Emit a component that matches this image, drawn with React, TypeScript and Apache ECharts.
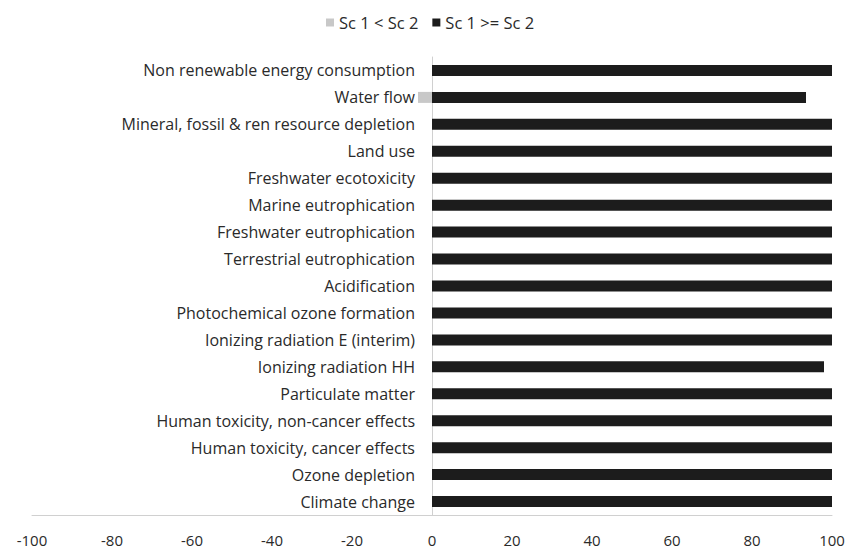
import React, { useEffect, useRef } from "react";
import * as echarts from "echarts";

const categories = [
  "Climate change",
  "Ozone depletion",
  "Human toxicity, cancer effects",
  "Human toxicity, non-cancer effects",
  "Particulate matter",
  "Ionizing radiation HH",
  "Ionizing radiation E (interim)",
  "Photochemical ozone formation",
  "Acidification",
  "Terrestrial eutrophication",
  "Freshwater eutrophication",
  "Marine eutrophication",
  "Freshwater ecotoxicity",
  "Land use",
  "Mineral, fossil & ren resource depletion",
  "Water flow",
  "Non renewable energy consumption",
];

const sc1LessSc2 = [0, 0, 0, 0, 0, 0, 0, 0, 0, 0, 0, 0, 0, 0, 0, -3.5, 0];
const sc1GeqSc2 = [100, 100, 100, 100, 100, 98, 100, 100, 100, 100, 100, 100, 100, 100, 100, 93.5, 100];

const xTicks = { min: -100, max: 100, interval: 20 };

export default function App() {
  const ref = useRef<HTMLDivElement>(null);
  useEffect(() => {
    if (!ref.current) return;
    const chart = echarts.init(ref.current, null, { renderer: "svg" });
    const font = "Open Sans";
    const gridLeft = 32;
    const gridRight = 28;
    const plotWidth = 860 - gridLeft - gridRight;
    chart.setOption({
      animation: false,
      backgroundColor: "#ffffff",
      textStyle: { fontFamily: font },
      legend: {
        top: 9,
        left: 321,
        itemWidth: 8,
        itemHeight: 8,
        itemGap: 14,
        icon: "rect",
        textStyle: { fontSize: 16.5, color: "#2a2a2a", fontFamily: font },
        data: [
          { name: "Sc 1 < Sc 2", itemStyle: { color: "#c8c8c8" } },
          { name: "Sc 1 >= Sc 2", itemStyle: { color: "#1c1c1c" } },
        ],
      },
      grid: {
        left: gridLeft,
        right: gridRight,
        top: 57,
        bottom: 34,
        containLabel: false,
        outerBoundsMode: "none",
      },
      xAxis: {
        type: "value",
        min: xTicks.min,
        max: xTicks.max,
        interval: xTicks.interval,
        axisLine: { show: true, lineStyle: { color: "#d0d0d0" } },
        axisTick: { show: false },
        splitLine: { show: false },
        axisLabel: { fontSize: 15, color: "#2a2a2a", margin: 17, fontFamily: font },
      },
      yAxis: {
        type: "category",
        data: categories,
        offset: -plotWidth / 2,
        axisLine: { show: true, onZero: false, lineStyle: { color: "#d0d0d0" } },
        axisTick: { show: false },
        splitLine: { show: false },
        axisLabel: { fontSize: 16, color: "#2a2a2a", margin: 17, fontFamily: font },
      },
      series: [
        {
          name: "Sc 1 < Sc 2",
          type: "bar",
          data: sc1LessSc2,
          barWidth: 11,
          barGap: "-100%",
          itemStyle: { color: "#c8c8c8" },
        },
        {
          name: "Sc 1 >= Sc 2",
          type: "bar",
          data: sc1GeqSc2,
          barWidth: 11,
          barGap: "-100%",
          itemStyle: { color: "#1c1c1c" },
        },
      ],
    });
    return () => chart.dispose();
  }, []);
  return (
    <div
      ref={ref}
      style={{ position: "fixed", left: 0, top: 0, width: 860, height: 549 }}
    />
  );
}
